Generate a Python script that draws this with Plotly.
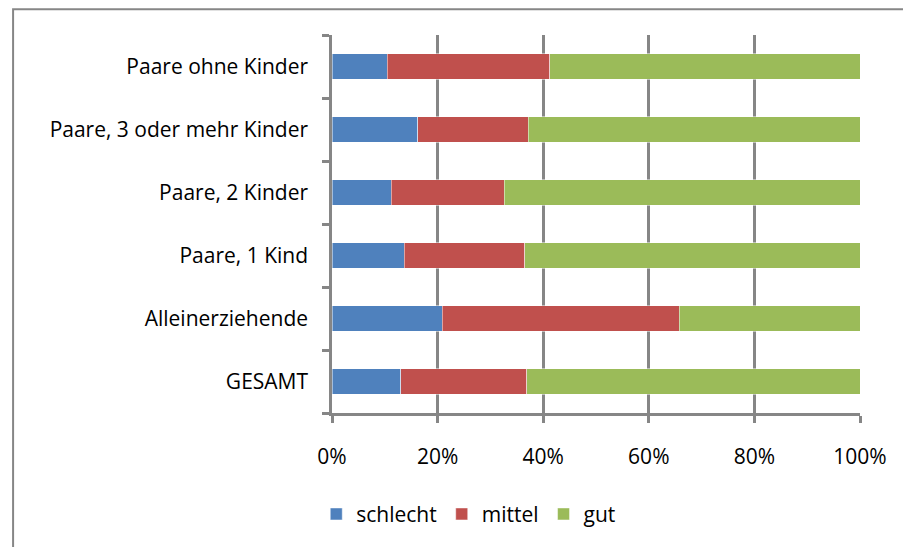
import plotly.graph_objects as go

gruppen = ['GESAMT', 'Alleinerziehende', 'Paare, 1 Kind', 'Paare, 2 Kinder',
           'Paare, 3 oder mehr Kinder', 'Paare ohne Kinder']
schlecht = [13.0, 20.9, 13.7, 11.2, 16.2, 10.5]
mittel = [23.9, 44.9, 22.8, 21.4, 21.0, 30.7]
gut = [63.1, 34.2, 63.5, 67.4, 62.8, 58.8]
x_ticks = [0, 20, 40, 60, 80, 100]
x_labels = ['0%', '20%', '40%', '60%', '80%', '100%']

grau = '#868686'
schrift = dict(family='Open Sans, sans-serif', size=21, color='#000000')

fig = go.Figure()
for name, werte, farbe in [('schlecht', schlecht, '#4F81BD'),
                           ('mittel', mittel, '#C0504D'),
                           ('gut', gut, '#9BBB59')]:
    fig.add_trace(go.Bar(y=gruppen, x=werte, name=name, orientation='h',
                         marker=dict(color=farbe, line=dict(color='rgba(255,255,255,0.6)', width=0.8))))

# seite hat 8px body-rand, daher 903x539
fig.update_layout(
    barmode='stack', barnorm='percent', bargap=0.6,
    width=903, height=539,
    margin=dict(l=324, r=51, t=27, b=132),
    paper_bgcolor='white', plot_bgcolor='white',
    font=schrift,
    xaxis=dict(range=[0, 100], tickmode='array', tickvals=x_ticks, ticktext=x_labels,
               showgrid=True, gridcolor=grau, gridwidth=2.5,
               showline=True, linecolor=grau, linewidth=2.5,
               ticks='outside', ticklen=7, tickwidth=2.5, tickcolor=grau,
               ticklabelstandoff=16, zeroline=False),
    yaxis=dict(showline=True, linecolor=grau, linewidth=2.5,
               ticks='outside', ticklen=7, tickwidth=2.5, tickcolor=grau,
               tickson='boundaries', ticklabelstandoff=17, showgrid=False),
    legend=dict(orientation='h', x=0.259, xanchor='center', y=-0.268, yanchor='middle',
                font=schrift, itemwidth=30, traceorder='normal'),
    shapes=[dict(type='rect', xref='paper', yref='paper',
                 x0=-0.604, x1=1.2, y0=-0.5, y1=1.068,
                 line=dict(color=grau, width=2), fillcolor='rgba(0,0,0,0)', layer='below')]
)

fig.write_html('out.html')
